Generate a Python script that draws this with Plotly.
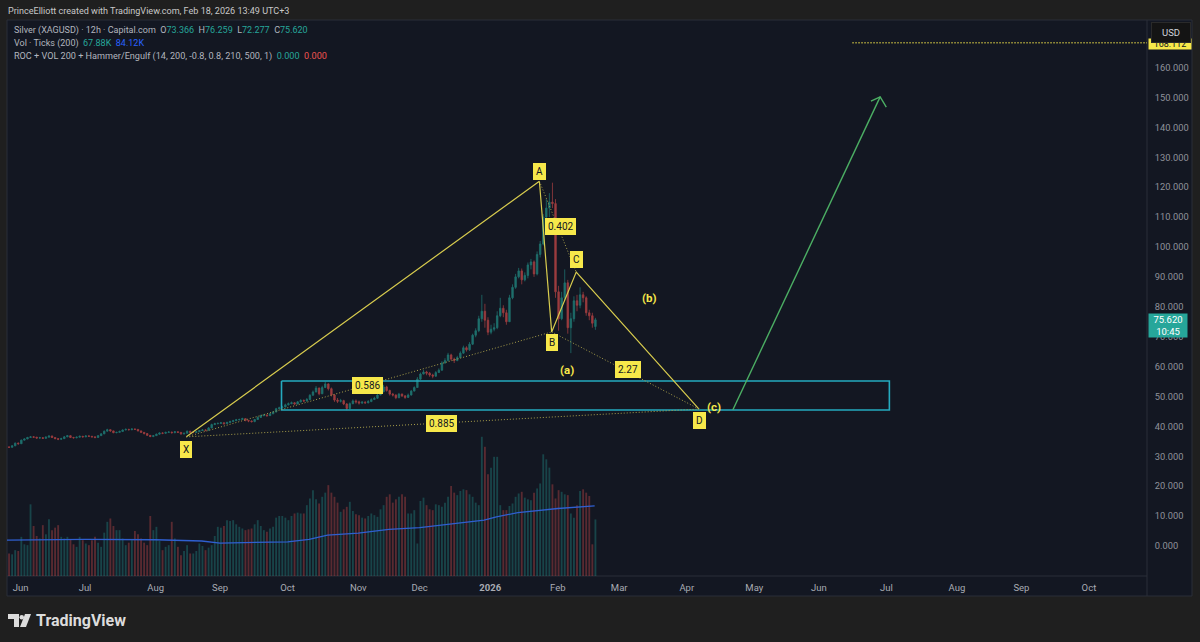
import pandas as pd
import plotly.graph_objects as go

# daily OHLC (May 2025 - Feb 2026)
price_open = [
    33.3,33.2,33.1,33.0,33.5,34.4,34.2,35.4,35.8,36.3,
    36.5,36.4,36.1,36.2,36.0,36.4,36.8,36.3,35.9,35.7,
    35.9,36.5,36.9,36.3,36.2,36.4,36.7,36.5,36.8,36.7,
    36.5,36.3,36.9,37.5,38.4,38.9,38.5,37.9,38.0,38.3,
    38.8,39.0,38.9,39.1,39.0,38.5,38.0,37.6,37.0,36.6,
    36.9,37.4,37.8,37.7,38.0,38.1,37.9,38.2,38.0,37.5,
    37.7,38.4,38.0,38.0,38.2,38.6,38.8,38.7,39.5,40.6,
    40.9,41.0,41.2,40.9,41.3,41.6,41.9,42.2,42.3,42.6,
    42.0,41.8,41.6,42.3,43.0,43.6,43.8,43.6,44.2,44.8,
    45.9,46.2,46.5,47.2,47.6,47.9,47.5,48.2,48.7,48.5,
    49.0,50.4,51.5,52.8,50.9,53.0,54.2,52.6,50.5,48.8,
    48.4,48.6,47.5,46.0,47.6,48.5,48.2,47.8,48.1,47.9,
    48.3,49.0,49.4,50.5,51.6,53.2,52.0,50.8,50.5,49.6,
    50.8,50.2,49.7,50.5,51.8,53.0,55.8,57.5,58.2,57.8,
    57.2,56.8,58.0,58.8,61.2,62.0,63.9,62.5,62.0,63.0,
    64.5,66.3,65.6,67.5,70.5,72.0,76.0,78.5,75.5,71.5,
    72.5,73.0,77.0,79.5,78.0,75.0,83.0,86.5,90.0,92.0,
    89.0,90.5,94.0,95.0,91.0,97.5,101.0,110.0,113.0,115.0,
    114.5,85.0,76.0,83.0,88.0,73.0,76.0,82.0,80.5,84.0,
    83.0,78.0,77.0,73.4,
]
price_high = [
    33.5,33.4,33.3,33.7,34.6,34.6,35.6,36.0,36.5,36.8,
    36.7,36.5,36.5,36.4,36.7,37.0,36.9,36.4,36.1,36.2,
    36.8,37.1,37.0,36.5,36.6,36.9,36.8,37.0,37.0,36.8,
    36.6,37.1,37.7,38.6,39.2,39.0,38.6,38.2,38.6,39.0,
    39.3,39.2,39.4,39.3,39.1,38.6,38.1,37.7,37.1,37.1,
    37.6,38.0,38.0,38.2,38.4,38.2,38.4,38.3,38.1,37.9,
    38.6,38.5,38.3,38.4,38.8,39.1,39.0,39.8,40.9,41.2,
    41.3,41.5,41.3,41.6,41.9,42.2,42.5,42.6,42.9,42.7,
    42.2,42.0,42.5,43.3,43.9,44.1,44.0,44.5,45.1,46.2,
    46.6,46.9,47.6,48.0,48.3,48.1,48.5,49.1,49.0,49.5,
    50.8,52.0,53.5,53.0,53.6,54.9,54.4,53.0,50.8,49.5,
    49.2,48.9,47.8,48.0,49.0,49.0,48.6,48.5,48.4,48.8,
    49.4,49.9,50.8,52.0,53.9,53.6,52.3,51.2,50.7,51.2,
    51.0,50.5,51.0,52.2,53.4,56.5,58.0,58.9,58.6,58.2,
    57.6,58.5,59.4,61.8,62.8,64.6,64.3,63.0,63.6,65.1,
    67.0,66.8,68.2,71.0,72.8,77.0,84.0,81.0,76.5,74.0,
    74.5,78.5,83.0,80.5,79.0,84.0,87.5,91.0,93.0,92.8,
    91.5,94.8,96.0,95.5,98.5,102.0,111.0,116.0,118.0,121.5,
    116.0,87.0,85.0,92.5,89.0,78.0,83.5,84.0,86.5,85.0,
    83.5,79.0,78.0,76.3,
]
price_low = [
    33.0,32.9,32.8,32.9,33.4,33.9,34.2,35.3,35.7,36.2,
    36.1,35.9,35.9,35.8,35.9,36.3,36.1,35.7,35.4,35.5,
    35.8,36.4,36.1,35.9,36.0,36.3,36.3,36.4,36.5,36.3,
    36.0,36.2,36.8,37.4,38.3,38.2,37.7,37.7,37.9,38.2,
    38.7,38.6,38.7,38.8,38.3,37.8,37.3,36.8,36.4,36.4,
    36.8,37.2,37.4,37.5,37.8,37.6,37.7,37.8,37.2,37.3,
    37.6,37.8,37.7,37.8,38.1,38.5,38.4,38.6,39.4,40.5,
    40.7,40.9,40.6,40.8,41.2,41.5,41.8,42.0,42.2,41.7,
    41.4,41.3,41.4,42.2,42.9,43.4,43.2,43.5,44.1,44.7,
    45.7,46.1,46.4,47.0,47.4,47.1,47.4,48.0,48.1,48.3,
    48.8,50.3,51.4,50.4,50.8,52.8,52.0,50.0,48.2,47.8,
    48.0,47.1,45.4,45.8,47.4,47.6,47.3,47.5,47.5,47.7,
    48.1,48.8,49.2,50.4,51.4,51.6,50.3,50.0,49.1,49.4,
    49.8,49.2,49.5,50.3,51.7,52.9,55.5,57.4,57.1,56.6,
    56.1,56.6,57.9,58.6,61.0,61.8,62.0,61.2,61.8,62.9,
    64.3,65.0,65.2,67.2,69.8,71.5,75.0,73.0,70.5,70.8,
    71.8,72.5,76.5,76.5,74.0,75.0,82.5,86.0,89.5,87.5,
    88.5,89.5,92.5,90.0,90.5,96.5,100.5,108.0,110.0,113.0,
    83.0,72.0,75.5,82.0,71.0,64.5,75.0,78.5,79.5,81.5,
    77.0,75.5,73.0,72.3,
]
price_close = [
    33.2,33.1,33.0,33.5,34.4,34.2,35.4,35.8,36.3,36.5,
    36.4,36.1,36.2,36.0,36.4,36.8,36.3,35.9,35.7,35.9,
    36.5,36.9,36.3,36.2,36.4,36.7,36.5,36.8,36.7,36.5,
    36.3,36.9,37.5,38.4,38.9,38.5,37.9,38.0,38.3,38.8,
    39.0,38.9,39.1,39.0,38.5,38.0,37.6,37.0,36.6,36.9,
    37.4,37.8,37.7,38.0,38.1,37.9,38.2,38.0,37.5,37.7,
    38.4,38.0,38.0,38.2,38.6,38.8,38.7,39.5,40.6,40.9,
    41.0,41.2,40.9,41.3,41.6,41.9,42.2,42.3,42.6,42.0,
    41.8,41.6,42.3,43.0,43.6,43.8,43.6,44.2,44.8,45.9,
    46.2,46.5,47.2,47.6,47.9,47.5,48.2,48.7,48.5,49.0,
    50.4,51.5,52.8,50.9,53.0,54.2,52.6,50.5,48.8,48.4,
    48.6,47.5,46.0,47.6,48.5,48.2,47.8,48.1,47.9,48.3,
    49.0,49.4,50.5,51.6,53.2,52.0,50.8,50.5,49.6,50.8,
    50.2,49.7,50.5,51.8,53.0,55.8,57.5,58.2,57.8,57.2,
    56.8,58.0,58.8,61.2,62.0,63.9,62.5,62.0,63.0,64.5,
    66.3,65.6,67.5,70.5,72.0,76.0,78.5,75.5,71.5,72.5,
    73.0,77.0,79.5,78.0,75.0,83.0,86.5,90.0,92.0,89.0,
    90.5,94.0,95.0,91.0,97.5,101.0,110.0,113.0,115.0,114.5,
    85.0,76.0,83.0,88.0,73.0,76.0,82.0,80.5,84.0,83.0,
    78.0,77.0,74.5,75.62,
]
# volume in thousands of ticks
volume_k = [
    28,28,27,26,31,30,47,38,37,86,
    60,48,45,61,50,68,55,58,61,47,
    45,47,44,38,35,47,43,39,37,
    43,47,40,35,52,65,69,60,55,55,
    45,37,40,43,54,50,45,40,37,72,
    55,59,42,31,35,37,65,45,35,25,
    30,37,27,27,30,39,36,31,34,
    37,48,59,58,60,67,66,67,62,59,
    57,55,56,57,62,67,60,55,53,57,
    59,70,72,72,70,67,72,75,76,75,
    75,85,93,103,92,87,95,100,109,100,
    95,88,77,80,83,89,78,74,73,
    70,69,72,75,73,71,80,85,95,98,
    88,92,95,98,95,75,75,79,39,90,
    94,85,80,79,86,85,83,88,95,108,
    100,97,102,104,103,98,95,88,85,167,
    155,122,130,143,143,85,79,79,84,87,
    95,99,101,94,92,91,100,105,111,146,
    140,130,110,93,103,101,98,97,75,70,
    85,102,104,100,96,38,67.88,
]
ma_dates = ["2025-05-23","2025-07-01","2025-08-01","2025-08-22","2025-09-01","2025-09-15",
            "2025-10-01","2025-10-10","2025-10-20","2025-11-03","2025-11-17","2025-12-01",
            "2025-12-10","2025-12-17","2025-12-30","2026-01-05","2026-01-14","2026-02-02",
            "2026-02-09","2026-02-18"]
ma_values = [43,44,43.5,42,39.5,40,41,44,49,51.5,56,58,61,64,67,71,76,81,82.5,84.12]

# harmonic pattern points
xabcd_dates = ["2025-08-15","2026-01-23","2026-01-29","2026-02-10","2026-04-07"]
xabcd_prices = [36.5,122,71.6,91.6,45.8]
dotted_xb = [0,2]
dotted_ac = [1,3]
dotted_bd = [2,4]
dotted_xd = [0,4]

box_dates = ["2025-09-29","2026-07-02","2026-07-02","2025-09-29","2025-09-29"]
box_prices = [55.2,55.2,45.5,45.5,55.2]

arrow_dates = ["2026-04-22","2026-06-29"]
arrow_prices = [45.5,150.2]
head_dates = ["2026-06-24","2026-06-29","2026-07-01"]
head_prices = [148.8,150.2,146.8]

level_dates = ["2026-06-16","2026-10-28"]
level_prices = [168.3,168.3]

marker_names = ["X","A","B","C","D","0.586","0.402","2.27","0.885"]
marker_dates = ["2025-08-15","2026-01-23","2026-01-29","2026-02-10","2026-04-07",
                "2025-11-06","2026-02-03","2026-03-05","2025-12-10"]
marker_prices = [32.4,125.1,67.9,95.7,42.1,53.8,106.7,58.9,41.1]

wave_names = ["(a)","(b)","(c)"]
wave_dates = ["2026-02-05","2026-03-16","2026-04-14"]
wave_prices = [58.9,82.9,46.5]

month_dates = ["2025-06-02","2025-07-01","2025-08-01","2025-09-01","2025-10-01","2025-11-03",
               "2025-12-01","2026-01-01","2026-02-02","2026-03-02","2026-04-01","2026-05-01",
               "2026-06-01","2026-07-01","2026-08-03","2026-09-01","2026-10-01"]
month_labels = ["Jun","Jul","Aug","Sep","Oct","Nov","Dec","<b>2026</b>","Feb","Mar","Apr","May",
                "Jun","Jul","Aug","Sep","Oct"]
price_ticks = [0,10,20,30,40,50,60,70,80,90,100,110,120,130,140,150,160]

assert len(price_open) == len(price_high) == len(price_low) == len(price_close) == len(volume_k)

bar_dates = pd.bdate_range(end="2026-02-18", periods=len(price_close)) + pd.Timedelta(hours=6)

UP = "#26a69a"
DOWN = "#ef5350"
YELLOW = "#f7e84a"
GRID_LINE = "#2a2e39"
PANEL = "#131722"
PAGE = "#1f1f1f"
TEXT = "#b2b5be"
FONT = "Roboto"


def px(x):
    return x / 1200


def py(y):
    return 1 - y / 642


fig = go.Figure()

volume_colors = [
    "rgba(38,166,154,0.32)" if c >= o else "rgba(239,83,80,0.32)"
    for o, c in zip(price_open, price_close)
]
fig.add_trace(go.Bar(x=bar_dates, y=volume_k, marker=dict(color=volume_colors, line=dict(width=0)),
                     width=51840000, yaxis="y2"))
fig.add_trace(go.Scatter(x=ma_dates, y=ma_values, mode="lines", yaxis="y2",
                         line=dict(color="#2f5fd0", width=1.3)))

fig.add_trace(go.Candlestick(x=bar_dates, open=price_open, high=price_high, low=price_low, close=price_close,
                             increasing=dict(line=dict(color=UP, width=0.8), fillcolor=UP),
                             decreasing=dict(line=dict(color=DOWN, width=0.8), fillcolor=DOWN),
                             whiskerwidth=0, opacity=0.62))

# target box
fig.add_trace(go.Scatter(x=box_dates, y=box_prices, mode="lines", line=dict(color="#25aabf", width=1.6)))

# solid legs of the pattern
fig.add_trace(go.Scatter(x=xabcd_dates, y=xabcd_prices, mode="lines", line=dict(color="#d8cc4e", width=1.2)))

# dotted ratio lines
for i, j in [dotted_xb, dotted_ac, dotted_bd, dotted_xd]:
    fig.add_trace(go.Scatter(x=[xabcd_dates[i], xabcd_dates[j]], y=[xabcd_prices[i], xabcd_prices[j]],
                             mode="lines", line=dict(color="#a89f4a", width=1, dash="1px,2px")))

fig.add_trace(go.Scatter(x=level_dates, y=level_prices, mode="lines",
                         line=dict(color=YELLOW, width=1.3, dash="1px,2px")))

# green projection arrow
fig.add_trace(go.Scatter(x=arrow_dates, y=arrow_prices, mode="lines", line=dict(color="#4caf64", width=1.4)))
fig.add_trace(go.Scatter(x=head_dates, y=head_prices, mode="lines", line=dict(color="#4caf64", width=1.4)))

annotations = []

for name, d, p in zip(marker_names, marker_dates, marker_prices):
    annotations.append(dict(x=d, y=p, xref="x", yref="y", text=name, showarrow=False,
                            font=dict(family=FONT, size=10, color="#131722"),
                            bgcolor=YELLOW, bordercolor=YELLOW, borderpad=2))
for name, d, p in zip(wave_names, wave_dates, wave_prices):
    annotations.append(dict(x=d, y=p, xref="x", yref="y", text="<b>" + name + "</b>", showarrow=False,
                            font=dict(family=FONT, size=11.5, color=YELLOW)))


def page_text(x, y, text, size=9, color=TEXT, anchor="left"):
    annotations.append(dict(x=px(x), y=py(y), xref="paper", yref="paper", text=text, showarrow=False,
                            xanchor=anchor, yanchor="middle", align="left", borderpad=0,
                            font=dict(family=FONT, size=size, color=color)))


def val(text, color=UP):
    return f"<span style='color:{color}'>{text}</span>"


page_text(7, 11, "PrinceElliott created with TradingView.com, Feb 18, 2026 13:49 UTC+3", size=9.05, color="#c8c8c8")
page_text(13, 31, "Silver (XAGUSD) · 12h · Capital.com  O" + val("73.366") + "  H" + val("76.259")
          + "  L" + val("72.277") + "  C" + val("75.620"))
page_text(13, 43.5, "Vol · Ticks (200)  " + val("67.88K") + "  " + val("84.12K", "#2962ff"))
page_text(13, 56, "ROC + VOL 200 + Hammer/Engulf (14, 200, -0.8, 0.8, 210, 500, 1)  " + val("0.000") + "  "
          + val("0.000", DOWN), size=9.1)

# price tag and the yellow level tag hidden behind the USD button
annotations.append(dict(x=px(1148), y=py(44), xref="paper", yref="paper", xanchor="left", yanchor="middle",
                        text="168.112", showarrow=False, bgcolor=YELLOW, borderpad=0, width=42,
                        font=dict(family=FONT, size=9, color="#131722")))
annotations.append(dict(x=px(1151), y=py(32.5), xref="paper", yref="paper", xanchor="left", yanchor="middle",
                        text="USD", showarrow=False, bgcolor="#141414", bordercolor="#2a2a2a", borderwidth=1,
                        borderpad=3, width=32, height=13, font=dict(family=FONT, size=9.5, color="#d1d4dc")))
annotations.append(dict(x=px(1148), y=py(325.5), xref="paper", yref="paper", xanchor="left", yanchor="middle",
                        text="75.620<br>10:45", showarrow=False, bgcolor="#26a69a", borderpad=0, width=38, height=23,
                        font=dict(family=FONT, size=9.5, color="#ffffff")))

page_text(35, 620, "<b>TradingView</b>", size=16, color="#dcdcdc")

shapes = [
    # panel behind both axes
    dict(type="rect", xref="paper", yref="paper", x0=px(7), x1=px(1192), y0=py(596), y1=py(20),
         fillcolor=PANEL, line=dict(color=GRID_LINE, width=1), layer="below"),
    dict(type="line", xref="paper", yref="paper", x0=px(7), x1=px(1147), y0=py(576), y1=py(576),
         line=dict(color=GRID_LINE, width=1), layer="below"),
    dict(type="line", xref="paper", yref="paper", x0=px(1147), x1=px(1147), y0=py(596), y1=py(20),
         line=dict(color=GRID_LINE, width=1), layer="below"),
    # logo
    dict(type="path", xref="paper", yref="paper", fillcolor="#dcdcdc", line=dict(width=0),
         path=f"M{px(8)},{py(614)} L{px(19)},{py(614)} L{px(19)},{py(627)} L{px(14)},{py(627)} "
              f"L{px(14)},{py(619)} L{px(8)},{py(619)} Z"),
    dict(type="path", xref="paper", yref="paper", fillcolor="#dcdcdc", line=dict(width=0),
         path=f"M{px(25)},{py(614)} L{px(31)},{py(614)} L{px(26)},{py(627)} L{px(20)},{py(627)} Z"),
    dict(type="circle", xref="paper", yref="paper", fillcolor="#dcdcdc", line=dict(width=0),
         x0=px(19.5), x1=px(24), y0=py(619.5), y1=py(615)),
]

fig.update_layout(
    width=1200,
    height=642,
    margin=dict(l=0, r=0, t=0, b=0),
    paper_bgcolor=PAGE,
    plot_bgcolor="rgba(0,0,0,0)",
    showlegend=False,
    hovermode=False,
    barmode="overlay",
    annotations=annotations,
    shapes=shapes,
    xaxis=dict(
        domain=[px(7), px(1147)],
        range=["2025-05-26 14:00", "2026-10-27 22:00"],
        rangebreaks=[dict(bounds=["sat", "mon"])],
        rangeslider=dict(visible=False),
        showgrid=False, zeroline=False, showline=False,
        tickmode="array", tickvals=month_dates, ticktext=month_labels,
        ticks="outside", ticklen=3, tickcolor="rgba(0,0,0,0)", tickangle=0,
        tickfont=dict(family=FONT, size=9.5, color="#a8abb3"),
        automargin=False,
    ),
    yaxis=dict(
        domain=[py(576), py(20)],
        range=[-10.03, 175.9],
        side="right",
        showgrid=False, zeroline=False, showline=False,
        tickmode="array", tickvals=price_ticks, tickformat=".3f",
        ticks="outside", ticklen=5, tickcolor="rgba(0,0,0,0)",
        tickfont=dict(family=FONT, size=9.3, color="#8f929a"),
        automargin=False,
    ),
    yaxis2=dict(
        domain=[py(576), py(20)],
        range=[0, 667],
        overlaying="y",
        visible=False,
    ),
)

# the default page body has an 8px margin, drop it so the figure fills the window
fig.write_html("out.html", config={"displayModeBar": False},
               post_script="document.body.style.margin='0';")
